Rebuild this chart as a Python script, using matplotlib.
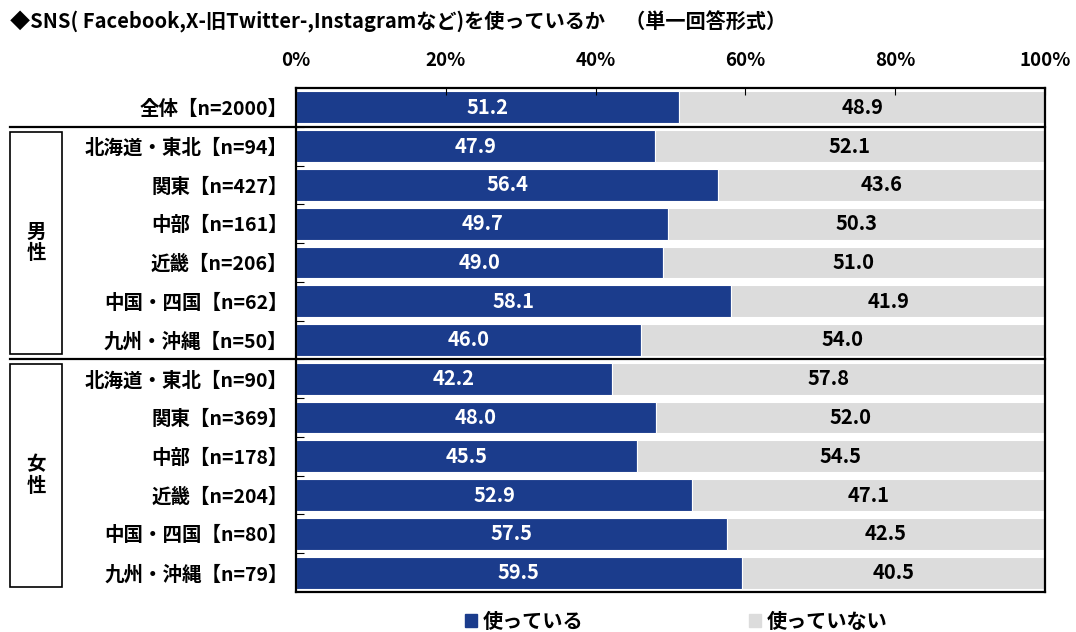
import matplotlib
matplotlib.use("Agg")
import matplotlib.pyplot as plt
import matplotlib.transforms as mtransforms
from matplotlib.patches import Rectangle, Patch

plt.rcParams["font.family"] = ["Noto Sans CJK JP", "DejaVu Sans"]
plt.rcParams["font.weight"] = "bold"

labels = [
    "全体【n=2000】",
    "北海道・東北【n=94】", "関東【n=427】", "中部【n=161】",
    "近畿【n=206】", "中国・四国【n=62】", "九州・沖縄【n=50】",
    "北海道・東北【n=90】", "関東【n=369】", "中部【n=178】",
    "近畿【n=204】", "中国・四国【n=80】", "九州・沖縄【n=79】",
]
used = [51.2, 47.9, 56.4, 49.7, 49.0, 58.1, 46.0, 42.2, 48.0, 45.5, 52.9, 57.5, 59.5]
not_used = [48.9, 52.1, 43.6, 50.3, 51.0, 41.9, 54.0, 57.8, 52.0, 54.5, 47.1, 42.5, 40.5]
series_names = ["使っている", "使っていない"]
groups = ["男\n性", "女\n性"]
xticks = [0, 20, 40, 60, 80, 100]

blue = "#1B3C8C"
gray = "#DCDCDC"

fig = plt.figure(figsize=(10.76, 6.32), dpi=100)
ax = fig.add_axes([296 / 1076, 1 - 592 / 632, 749 / 1076, 504 / 632])

rows = list(range(len(labels)))
ax.barh(rows, used, height=0.82, color=blue, edgecolor="white", linewidth=0.8)
ax.barh(rows, not_used, left=used, height=0.82, color=gray, edgecolor="white", linewidth=0.8)

for i in rows:
    ax.text(used[i] / 2, i, f"{used[i]:.1f}", ha="center", va="center",
            color="white", fontsize=14.5, fontweight="bold")
    ax.text(used[i] + not_used[i] / 2, i, f"{not_used[i]:.1f}", ha="center", va="center",
            color="black", fontsize=14.5, fontweight="bold")

ax.set_xlim(0, 100)
ax.set_ylim(len(labels) - 0.5, -0.5)
ax.xaxis.tick_top()
ax.set_xticks(xticks)
ax.set_xticklabels([f"{t}%" for t in xticks], fontsize=13.5, fontweight="bold")
ax.tick_params(axis="x", direction="in", length=5, pad=13, width=0.8)
ax.set_yticks(rows)
ax.set_yticklabels(labels, fontsize=14, fontweight="bold")
ax.tick_params(axis="y", which="major", length=0, pad=6)
ax.set_yticks([r + 0.5 for r in rows[:-1]], minor=True)
ax.tick_params(axis="y", which="minor", direction="in", length=6, width=0.8)
for s in ax.spines.values():
    s.set_linewidth(1.6)

# group dividers and boxes
trans = mtransforms.blended_transform_factory(fig.transFigure, ax.transData)
for yb in [0.5, 6.5]:
    ax.plot([10 / 1076, 1045 / 1076], [yb, yb], color="black", lw=1.6,
            transform=trans, clip_on=False)
for (y0, y1), g in zip([(0.63, 6.37), (6.63, 12.37)], groups):
    ax.add_patch(Rectangle((10 / 1076, y0), 52 / 1076, y1 - y0, transform=trans,
                           fill=False, edgecolor="black", lw=1.2, clip_on=False))
    ax.text(36 / 1076, (y0 + y1) / 2, g, transform=trans, ha="center", va="center",
            fontsize=14, fontweight="bold", linespacing=1.15)

fig.text(10 / 1076, 1 - 22 / 632,
         "◆SNS( Facebook,X-旧Twitter-,Instagramなど)を使っているか　（単一回答形式）",
         fontsize=14.5, fontweight="bold", va="center", ha="left")

handles = [Patch(color=blue), Patch(color=gray)]
fig.legend(handles, series_names, loc="center", bbox_to_anchor=(676 / 1076, 1 - 621 / 632),
           ncol=2, frameon=False, handlelength=0.6, handleheight=0.6,
           handletextpad=0.3, columnspacing=8.2, prop={"weight": "bold", "size": 14.5})

fig.savefig("out.png", dpi=100)
